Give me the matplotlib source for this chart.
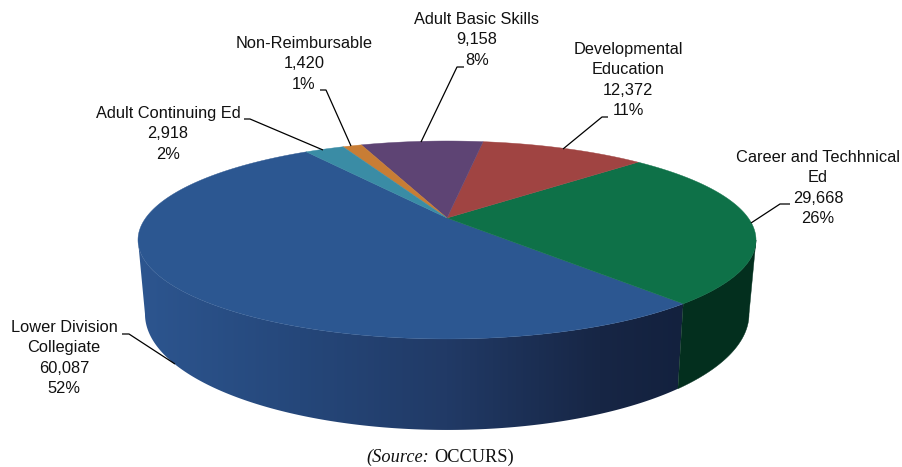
import numpy as np
import matplotlib
matplotlib.use("Agg")
import matplotlib.pyplot as plt
from matplotlib.patches import Polygon

categories = ["Lower Division\nCollegiate", "Career and Techhnical\nEd", "Developmental\nEducation",
              "Adult Basic Skills", "Non-Reimbursable", "Adult Continuing Ed"]
values = [60087, 29668, 12372, 9158, 1420, 2918]
value_labels = ["60,087", "29,668", "12,372", "9,158", "1,420", "2,918"]
pct_labels = ["52%", "26%", "11%", "8%", "1%", "2%"]
top_colors = ["#2c5791", "#0e7148", "#a04442", "#5e4474", "#c87d35", "#3a8ca5"]
label_xy = [(64, 358), (818, 188), (628, 80), (477, 40), (304, 64), (168, 134)]
leaders = [[(175, 364), (129, 334), (122, 334)],
           [(751, 223), (780, 204), (790, 204)],
           [(563, 149), (602, 117), (608, 117)],
           [(421, 142), (457, 67), (464, 67)],
           [(351, 146), (326, 90), (320, 90)],
           [(323, 150), (250, 119), (244, 119)]]

CX, CY, R, B, K = 447.0, 218.0, 301.3, 94.1, 0.222
ELL_CY, ELL_RX, ELL_RY = 240.0, 309.0, 99.0
BOT_CY, BOT_RX, BOT_RY = 314.0, 302.0, 116.0
BOUNDARY = -49.3  # angle of the blue/green edge at the front right


def rim(deg, bottom=False):
    t = np.radians(np.atleast_1d(deg))
    u, v = np.cos(t), np.sin(t)
    w = 1 + K * v
    x, y = CX + R * u / w, CY - B * v / w
    if bottom:
        return np.column_stack([CX + (x - CX) * BOT_RX / ELL_RX,
                                BOT_CY + (y - ELL_CY) * BOT_RY / ELL_RY])
    return np.column_stack([x, y])


fig = plt.figure(figsize=(9.03, 4.67), dpi=100)
ax = fig.add_axes([0, 0, 1, 1])

fracs = np.array(values) / sum(values) * 360
edges = BOUNDARY - fracs[0] + np.concatenate([[0], np.cumsum(fracs)])

alpha = np.degrees(np.arcsin(K))

# blue side wall: horizontal gradient clipped to the wall outline
th_b = np.linspace(-180 + alpha, BOUNDARY, 300)
blue_wall = Polygon(np.vstack([rim(th_b), rim(th_b, True)[::-1]]), closed=True,
                    fc="none", ec="none", transform=ax.transData)
ax.add_patch(blue_wall)
stops_x = [135, 300, 447, 600, 685]
stops = np.array([[0x2d, 0x56, 0x90], [0x25, 0x47, 0x7a], [0x21, 0x3a, 0x66],
                  [0x17, 0x26, 0x45], [0x13, 0x21, 0x3e]]) / 255
gx = np.arange(135, 686)
grad = np.stack([np.interp(gx, stops_x, stops[:, i]) for i in range(3)], axis=-1)[None, :, :]
im = ax.imshow(grad, extent=(135, 685, 435, 230), aspect="auto", zorder=2, interpolation="bilinear")
im.set_clip_path(blue_wall)

# green side wall
th_g = np.linspace(BOUNDARY, -alpha, 100)
ax.add_patch(Polygon(np.vstack([rim(th_g), rim(th_g, True)[::-1]]), closed=True,
                     fc="#032f1e", ec="#032f1e", lw=0.3, zorder=2.5))

# top face
for i, col in enumerate(top_colors):
    th = np.linspace(edges[i], edges[i + 1], 200)
    pts = np.vstack([[CX, CY], rim(th)])
    ax.add_patch(Polygon(pts, closed=True, fc=col, ec=col, lw=0.3, zorder=3))

# leaders and labels
for pts in leaders:
    xs, ys = zip(*pts)
    ax.plot(xs, ys, color="black", lw=0.9, zorder=4, solid_capstyle="butt")

for name, v, p, (x, y) in zip(categories, value_labels, pct_labels, label_xy):
    ax.text(x, y, f"{name}\n{v}\n{p}", ha="center", va="center", ma="center",
            family="Liberation Sans", fontsize=11.8, color="#111111", linespacing=1.45, zorder=5)

ax.text(429, 457, "(Source:", ha="right", va="center", family="Liberation Serif",
        style="italic", fontsize=13.2, color="#111111")
ax.text(434, 457, "OCCURS)", ha="left", va="center", family="Liberation Serif",
        fontsize=13.2, color="#111111")

ax.set_xlim(0, 903)
ax.set_ylim(467, 0)
ax.axis("off")
fig.savefig("out.png", dpi=100)
